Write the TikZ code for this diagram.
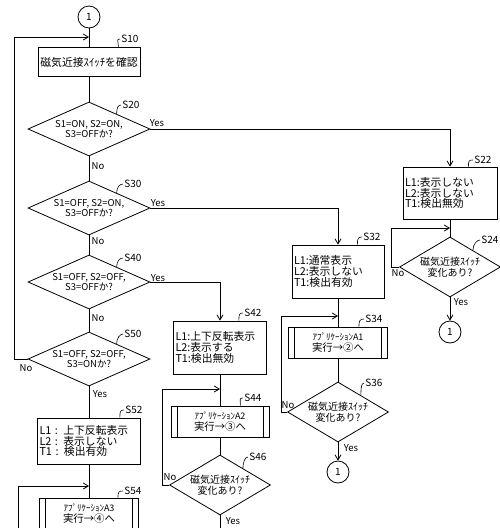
\documentclass[tikz,border=0pt]{standalone}
\usepackage{fontspec}
\setmainfont{Noto Sans CJK JP}
\usetikzlibrary{shapes.geometric,arrows.meta,calc}

\begin{document}
\begin{tikzpicture}[x=1pt,y=-1pt,line width=0.8pt,
  box/.style={draw, align=left, inner xsep=2pt, inner ysep=1pt, font=\fontsize{10.8}{10.6}\selectfont},
  subbox/.style={draw, align=center, inner sep=0pt, font=\fontsize{10.4}{11}\selectfont,
    path picture={\draw ([xshift=6pt]path picture bounding box.north west) -- ([xshift=6pt]path picture bounding box.south west)
      ([xshift=-6pt]path picture bounding box.north east) -- ([xshift=-6pt]path picture bounding box.south east);}},
  cond/.style={draw, diamond, aspect=2.3, inner sep=0pt, align=center, minimum width=122pt, minimum height=54pt, font=\fontsize{9.5}{10}\selectfont},
  ask/.style={draw, diamond, aspect=1.7, inner sep=0pt, align=center, minimum width=101pt, minimum height=60pt, font=\fontsize{10}{11}\selectfont},
  conn/.style={draw, circle, minimum size=22pt, inner sep=0pt, font=\fontsize{10}{10}\selectfont},
  tag/.style={anchor=west, inner sep=1pt, font=\fontsize{10}{10}\selectfont},
  yn/.style={inner sep=0pt, font=\fontsize{9.5}{10}\selectfont},
  arr/.style={-{Straight Barb[length=5pt,width=6pt]}},
  lead/.style={line width=0.6pt}]
\useasboundingbox (0,0) rectangle (500,528);
\clip (0,0) rectangle (500,528);

% left column
\node[conn] (c0) at (89,17) {1};
\node[box, align=center, minimum width=102pt, minimum height=29pt] (s10) at (89,62) {磁気近接ｽｲｯﾁを確認};
\node[cond] (s20) at (89,129) {S1=ON, S2=ON,\\S3=OFFか?};
\node[cond] (s30) at (89,208) {S1=OFF, S2=ON,\\S3=OFFか?};
\node[cond] (s40) at (89,282) {S1=OFF, S2=OFF,\\S3=OFFか?};
\node[cond] (s50) at (89,359) {S1=OFF, S2=OFF,\\S3=ONか?};
\node[box, text width=99pt, minimum height=46pt] (s52) at (89,441) {L1 : 上下反転表示\\L2 : 表示しない\\T1 : 検出有効};
\node[subbox, minimum width=99pt, minimum height=31pt] (s54) at (89,513.5) {{\fontsize{9}{10}\selectfont ｱﾌﾟﾘｹｰｼｮﾝA3}\\実行→④へ};

% right column
\node[box, text width=90pt, minimum height=52pt] (s22) at (450,193) {L1:表示しない\\L2:表示しない\\T1:検出無効};
\node[ask] (s24) at (450,267) {磁気近接ｽｲｯﾁ\\変化あり?};
\node[conn] (c24) at (450,332) {1};

% S32 column
\node[box, text width=88pt, minimum height=53pt] (s32) at (338,271.5) {L1:通常表示\\L2:表示しない\\T1:検出有効};
\node[subbox, minimum width=99pt, minimum height=31pt] (s34) at (338,342.5) {{\fontsize{9}{10}\selectfont ｱﾌﾟﾘｹｰｼｮﾝA1}\\実行→②へ};
\node[ask] (s36) at (338,412) {磁気近接ｽｲｯﾁ\\変化あり?};
\node[conn] (c36) at (338,472) {1};

% S42 column
\node[box, text width=89pt, minimum height=53pt] (s42) at (220,347.5) {L1:上下反転表示\\L2:表示する\\T1:検出無効};
\node[subbox, minimum width=98pt, minimum height=31pt] (s44) at (220,421.5) {{\fontsize{9}{10}\selectfont ｱﾌﾟﾘｹｰｼｮﾝA2}\\実行→③へ};
\node[ask] (s46) at (220,485) {磁気近接ｽｲｯﾁ\\変化あり?};

% junctions
\coordinate (j10) at (89,37);
\coordinate (j24) at (450,228);
\coordinate (j34) at (338,316);
\coordinate (j44) at (220,389);
\coordinate (j54) at (89,486);
\coordinate (in54) at (18,540);
\coordinate (out46) at (220,540);

% flow lines
\draw (c0) -- (s10);
\draw (s10) -- (s20);
\draw (s20) -- (s30);
\draw (s30) -- (s40);
\draw (s40) -- (s50);
\draw (s50) -- (s52);
\draw (s52) -- (s54);
\draw[arr] (s50.west) -- ++(-13,0) |- (j10);
\draw[arr] (in54) |- (j54);

\draw[arr] (s20.east) -| (s22.north);
\draw (s22) -- (s24);
\draw[arr] (s24.west) -- ++(-8,0) |- (j24);
\draw[arr] (s24) -- (c24);

\draw[arr] (s30.east) -| (s32.north);
\draw (s32) -- (s34);
\draw (s34) -- (s36);
\draw[arr] (s36.west) -- ++(-6,0) |- (j34);
\draw[arr] (s36) -- (c36);

\draw[arr] (s40.east) -| (s42.north);
\draw (s42) -- (s44);
\draw (s44) -- (s46);
\draw[arr] (s46.west) -- ++(-7,0) |- (j44);
\draw (s46) -- (out46);

% Yes / No
\node[yn] (y20) at (157,123) {Yes};
\node[yn] (n20) at (98,166) {No};
\node[yn] (y30) at (158,203) {Yes};
\node[yn] (n30) at (98,241) {No};
\node[yn] (y40) at (158,278) {Yes};
\node[yn] (n40) at (98,318) {No};
\node[yn] (n50) at (26,368) {No};
\node[yn] (y50) at (100,394) {Yes};
\node[yn] (n24) at (398,273) {No};
\node[yn] (y24) at (461,302) {Yes};
\node[yn] (n36) at (288,405) {No};
\node[yn] (y36) at (351,448) {Yes};
\node[yn] (n46) at (170,477) {No};
\node[yn] (y46) at (233,521) {Yes};

% step labels
\node[tag] (t10) at (120,39) {S10};
\node[tag] (t20) at (121,105) {S20};
\node[tag] (t30) at (123,184) {S30};
\node[tag] (t40) at (123,258) {S40};
\node[tag] (t50) at (123,334) {S50};
\node[tag] (t52) at (124,410) {S52};
\node[tag] (t54) at (123,491) {S54};
\node[tag] (t22) at (473,160) {S22};
\node[tag] (t24) at (480,240) {S24};
\node[tag] (t32) at (362,237) {S32};
\node[tag] (t34) at (364,319) {S34};
\node[tag] (t36) at (364,383) {S36};
\node[tag] (t42) at (243,313) {S42};
\node[tag] (t44) at (243,398) {S44};
\node[tag] (t46) at (248,457) {S46};

\draw[lead] ([xshift=-22pt]s10.north east) .. controls +(0,-6) and +(-4,0) .. (t10.west);
\draw[lead] ($(s20.north)!0.45!(s20.east)$) .. controls +(0,-6) and +(-3,0) .. (t20.west);
\draw[lead] ($(s30.north)!0.45!(s30.east)$) .. controls +(0,-6) and +(-3,0) .. (t30.west);
\draw[lead] ($(s40.north)!0.45!(s40.east)$) .. controls +(0,-6) and +(-3,0) .. (t40.west);
\draw[lead] ($(s50.north)!0.45!(s50.east)$) .. controls +(0,-6) and +(-3,0) .. (t50.west);
\draw[lead] ([xshift=-21pt]s52.north east) .. controls +(0,-6) and +(-4,0) .. (t52.west);
\draw[lead] ([xshift=-21pt]s54.north east) .. controls +(0,-6) and +(-4,0) .. (t54.west);
\draw[lead] ([xshift=-29pt]s22.north east) .. controls +(0,-6) and +(-4,0) .. (t22.west);
\draw[lead] ($(s24.north)!0.45!(s24.east)$) .. controls +(0,-6) and +(-3,0) .. (t24.west);
\draw[lead] ([xshift=-27pt]s32.north east) .. controls +(0,-6) and +(-4,0) .. (t32.west);
\draw[lead] ([xshift=-29pt]s34.north east) .. controls +(0,-6) and +(-4,0) .. (t34.west);
\draw[lead] ($(s36.north)!0.45!(s36.east)$) .. controls +(0,-6) and +(-3,0) .. (t36.west);
\draw[lead] ([xshift=-28pt]s42.north east) .. controls +(0,-6) and +(-4,0) .. (t42.west);
\draw[lead] ([xshift=-29pt]s44.north east) .. controls +(0,-6) and +(-4,0) .. (t44.west);
\draw[lead] ($(s46.north)!0.45!(s46.east)$) .. controls +(0,-6) and +(-3,0) .. (t46.west);
\end{tikzpicture}
\end{document}
